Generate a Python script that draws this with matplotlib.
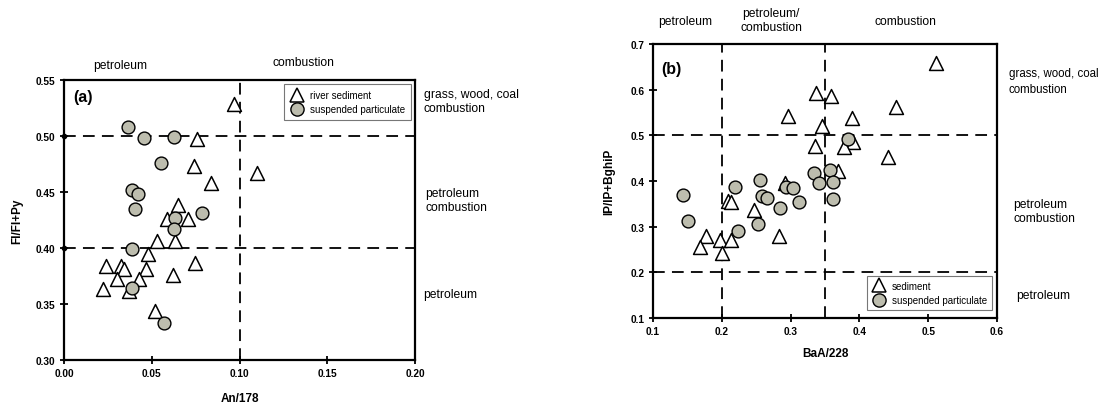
import matplotlib
matplotlib.use("Agg")
import matplotlib.pyplot as plt
from matplotlib.lines import Line2D

plt.rcParams['font.family'] = ['Liberation Sans', 'DejaVu Sans']

# ---------------- Panel (a) data ----------------
a_sed_x = [0.097, 0.076, 0.074, 0.084, 0.110, 0.065, 0.0585, 0.0705, 0.063, 0.053,
           0.048, 0.0745, 0.024, 0.0325, 0.034, 0.047, 0.062, 0.030, 0.043, 0.0225,
           0.037, 0.052]
a_sed_y = [0.529, 0.497, 0.473, 0.458, 0.467, 0.438, 0.426, 0.426, 0.406, 0.406,
           0.395, 0.387, 0.384, 0.384, 0.381, 0.381, 0.376, 0.372, 0.372, 0.363,
           0.362, 0.344]
a_sus_x = [0.0365, 0.0455, 0.0625, 0.0555, 0.039, 0.042, 0.0405, 0.0785, 0.063, 0.0625,
           0.039, 0.039, 0.057]
a_sus_y = [0.508, 0.498, 0.499, 0.476, 0.452, 0.448, 0.435, 0.431, 0.4265, 0.417,
           0.399, 0.364, 0.333]

# ---------------- Panel (b) data ----------------
b_sed_x = [0.337, 0.359, 0.296, 0.389, 0.346, 0.390, 0.378, 0.336, 0.369, 0.292,
           0.209, 0.213, 0.247, 0.283, 0.177, 0.169, 0.198, 0.213, 0.201,
           0.512, 0.453, 0.442]
b_sed_y = [0.592, 0.587, 0.542, 0.537, 0.521, 0.485, 0.474, 0.477, 0.421, 0.396,
           0.357, 0.353, 0.337, 0.280, 0.280, 0.255, 0.271, 0.271, 0.242,
           0.658, 0.563, 0.453]
b_sus_x = [0.384, 0.334, 0.357, 0.342, 0.362, 0.361, 0.256, 0.293, 0.304, 0.219,
           0.258, 0.266, 0.312, 0.284, 0.143, 0.151, 0.253, 0.223]
b_sus_y = [0.492, 0.417, 0.425, 0.396, 0.398, 0.361, 0.403, 0.386, 0.384, 0.386,
           0.368, 0.363, 0.353, 0.341, 0.370, 0.313, 0.306, 0.291]

a_xticks = [0.00, 0.05, 0.10, 0.15, 0.20]
a_yticks = [0.30, 0.35, 0.40, 0.45, 0.50, 0.55]
b_xticks = [0.1, 0.2, 0.3, 0.4, 0.5, 0.6]
b_yticks = [0.1, 0.2, 0.3, 0.4, 0.5, 0.6, 0.7]

fig = plt.figure(figsize=(11.02, 4.06), dpi=100)
axa = fig.add_axes([64/1102, 1-361/406, 351/1102, 280/406])
axb = fig.add_axes([653/1102, 1-319/406, 344/1102, 274/406])

circ_fc = '#bdbdae'
dash = (0, (6.5, 4))
region_fs = 8.7

def style(ax, xt, yt, fmtx, fmty):
    ax.set_xticks(xt)
    ax.set_yticks(yt)
    ax.set_xticklabels([fmtx.format(v) for v in xt], fontsize=7.3, fontweight='bold')
    ax.set_yticklabels([fmty.format(v) for v in yt], fontsize=7.3, fontweight='bold')
    ax.tick_params(direction='inout', length=6, width=1.3, pad=3)
    for s in ax.spines.values():
        s.set_linewidth(1.6)

# Panel (a)
axa.set_xlim(0, 0.20)
axa.set_ylim(0.30, 0.55)
for y in (0.40, 0.50):
    axa.axhline(y, color='black', lw=1.3, ls=dash, zorder=1)
    axa.plot([0], [y], 'o', color='black', ms=3, clip_on=False, zorder=5)
axa.axvline(0.10, color='black', lw=1.3, ls=dash, zorder=1)
axa.scatter(a_sed_x, a_sed_y, marker='^', s=100, facecolor='white', edgecolor='black', linewidth=1.1, zorder=3)
axa.scatter(a_sus_x, a_sus_y, marker='o', s=85, facecolor=circ_fc, edgecolor='black', linewidth=1.0, zorder=3)
style(axa, a_xticks, a_yticks, '{:.2f}', '{:.2f}')
axa.set_xlabel('An/178', fontsize=8.5, fontweight='bold', labelpad=10)
axa.set_ylabel('Fl/Fl+Py', fontsize=8.5, fontweight='bold', labelpad=9)
axa.text(0.025, 0.94, '(a)', transform=axa.transAxes, fontsize=11.5, fontweight='bold', va='center')

handles_a = [Line2D([], [], marker='^', ls='none', ms=10.5, mfc='white', mec='black', mew=1.1),
             Line2D([], [], marker='o', ls='none', ms=9.5, mfc=circ_fc, mec='black', mew=1.0)]
leg = axa.legend(handles_a, ['river sediment', 'suspended particulate'], loc='upper right',
                 bbox_to_anchor=(0.988, 0.985), fontsize=7, frameon=True, fancybox=False,
                 edgecolor='#555555', handletextpad=0.6, borderpad=0.6, labelspacing=0.45,
                 handlelength=1.5, borderaxespad=0)
leg.get_frame().set_linewidth(0.8)

fig.text(120/1102, 1-66/406, 'petroleum', fontsize=region_fs, ha='center', va='center')
fig.text(303/1102, 1-63/406, 'combustion', fontsize=region_fs, ha='center', va='center')
fig.text(424/1102, 1-102/406, 'grass, wood, coal\ncombustion', fontsize=region_fs, ha='left', va='center', linespacing=1.3)
fig.text(425/1102, 1-201/406, 'petroleum\ncombustion', fontsize=region_fs, ha='left', va='center', linespacing=1.3)
fig.text(423/1102, 1-295/406, 'petroleum', fontsize=region_fs, ha='left', va='center')

# Panel (b)
axb.set_xlim(0.1, 0.6)
axb.set_ylim(0.1, 0.7)
for y in (0.2, 0.5):
    axb.axhline(y, color='black', lw=1.3, ls=dash, zorder=1)
for x in (0.2, 0.35):
    axb.axvline(x, color='black', lw=1.3, ls=dash, zorder=1)
axb.scatter(b_sed_x, b_sed_y, marker='^', s=100, facecolor='white', edgecolor='black', linewidth=1.1, zorder=3)
axb.scatter(b_sus_x, b_sus_y, marker='o', s=85, facecolor=circ_fc, edgecolor='black', linewidth=1.0, zorder=3)
style(axb, b_xticks, b_yticks, '{:.1f}', '{:.1f}')
axb.set_xlabel('BaA/228', fontsize=8.5, fontweight='bold', labelpad=8)
axb.set_ylabel('IP/IP+BghiP', fontsize=8.5, fontweight='bold', labelpad=11)
axb.text(0.025, 0.91, '(b)', transform=axb.transAxes, fontsize=11.5, fontweight='bold', va='center')

handles_b = [Line2D([], [], marker='^', ls='none', ms=10.5, mfc='white', mec='black', mew=1.1),
             Line2D([], [], marker='o', ls='none', ms=9.5, mfc=circ_fc, mec='black', mew=1.0)]
legb = axb.legend(handles_b, ['sediment', 'suspended particulate'], loc='lower right',
                  bbox_to_anchor=(0.985, 0.03), fontsize=7, frameon=True, fancybox=False,
                  edgecolor='#555555', handletextpad=0.6, borderpad=0.5, labelspacing=0.45,
                  handlelength=1.5, borderaxespad=0)
legb.get_frame().set_linewidth(0.8)

fig.text(685/1102, 1-22/406, 'petroleum', fontsize=region_fs, ha='center', va='center')
fig.text(771/1102, 1-21/406, 'petroleum/\ncombustion', fontsize=region_fs, ha='center', va='center', linespacing=1.3)
fig.text(905/1102, 1-22/406, 'combustion', fontsize=region_fs, ha='center', va='center')
fig.text(1009/1102, 1-82/406, 'grass, wood, coal\ncombustion', fontsize=8.3, ha='left', va='center', linespacing=1.35)
fig.text(1013/1102, 1-212/406, 'petroleum\ncombustion', fontsize=region_fs, ha='left', va='center', linespacing=1.3)
fig.text(1016/1102, 1-296/406, 'petroleum', fontsize=region_fs, ha='left', va='center')

fig.savefig('out.png', dpi=100)
